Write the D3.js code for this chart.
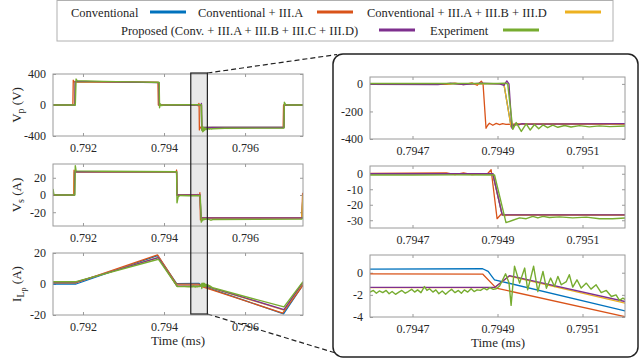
<!DOCTYPE html>
<html>
<head>
<meta charset="utf-8">
<script src="https://cdn.jsdelivr.net/npm/d3@7/dist/d3.min.js"></script>
<style>
  body { margin: 0; background: #fff; }
  svg, svg text { font-family: 'Liberation Serif', 'Times New Roman', Tinos, 'DejaVu Serif', serif; }
</style>
</head>
<body>
<svg id="fig" width="641" height="364"></svg>
<script>
// ---- series / legend ----
const seriesNames = [
  'Conventional',
  'Conventional + III.A',
  'Conventional + III.A + III.B + III.D',
  'Proposed (Conv. + III.A + III.B + III.C + III.D)',
  'Experiment'
];
const seriesColors = ['#0072BD', '#D95319', '#EDB120', '#7E2F8E', '#77AC30'];

// ---- time windows (ms) and ticks ----
const leftTimeDomain = [0.79126, 0.79743];
const zoomTimeDomain = [0.7946, 0.7952];
const highlightWindow = [0.79466, 0.79507];
const leftTimeTicks = [0.792, 0.794, 0.796];
const zoomTimeTicks = [0.7947, 0.7949, 0.7951];

const vpDomain = [-400, 400], vpTicks = [-400, 0, 400];
const vsDomain = [-36, 36], vsTicks = [-20, 0, 20];
const ilDomain = [-20, 20], ilTicks = [-20, 0, 20];
const vpZoomDomain = [-400, 50], vpZoomTicks = [-400, -200, 0];
const vsZoomDomain = [-35, 5], vsZoomTicks = [-30, -20, -10, 0];
const ilZoomDomain = [-4, 1.6], ilZoomTicks = [-4, -2, 0];

// ---- V_p (V): [time, value] ----
const vpConv = [[0.79126,0],[0.7918,0],[0.79181,300],[0.79387,292],[0.79388,0],[0.794915,0],
  [0.794932,-310],[0.79495,-290],[0.79696,-290],[0.79697,0],[0.79743,0]];
const vpConvA = [[0.79126,0],[0.79175,0],[0.79176,320],[0.79178,300],[0.79385,293],[0.79386,0],
  [0.79478,-4],[0.7948,5],[0.79482,-6],[0.79484,7],[0.794852,-10],[0.794862,20],[0.794866,0],
  [0.794873,-322],[0.794877,-300],[0.794881,-286],[0.794889,-300],[0.794897,-287],[0.794905,-296],
  [0.794912,-289],[0.79492,-294],[0.79494,-292],[0.79694,-292],[0.79695,0],[0.79743,0]];
const vpConvABD = [[0.79126,0],[0.7918,0],[0.79181,300],[0.79387,291],[0.79388,0],[0.794915,0],
  [0.794932,-312],[0.79495,-290],[0.79696,-289],[0.79697,0],[0.79743,0]];
const vpProp = [[0.79126,0],[0.7918,0],[0.79181,305],[0.79387,290],[0.79388,0],[0.79476,-5],
  [0.79479,5],[0.79482,-6],[0.79486,6],[0.794905,0],[0.794915,-10],[0.794922,22],[0.794927,0],
  [0.794934,-322],[0.794938,-300],[0.794944,-286],[0.79495,-297],[0.794958,-288],[0.79497,-292],
  [0.7952,-289],[0.79696,-288],[0.79697,0],[0.79743,0]];
const vpExp = [[0.79126,0],[0.79181,0],[0.79183,335],[0.79186,312],[0.7925,305],[0.7935,295],
  [0.79388,290],[0.79389,-35],[0.79391,15],[0.79394,-8],[0.794,0],[0.7947,3],[0.7949,4],
  [0.794918,5],[0.794924,0],[0.794936,-330],[0.794944,-281],[0.794956,-345],[0.7949675,-290],
  [0.794977,-335],[0.794987,-295],[0.794997,-325],[0.795007,-298],[0.795018,-318],[0.79503,-300],
  [0.795042,-315],[0.795058,-302],[0.795073,-313],[0.795093,-303],[0.795116,-312],[0.79514,-305],
  [0.795164,-310],[0.7952,-306],[0.7955,-300],[0.79696,-296],[0.79697,35],[0.797,5],[0.79706,0],[0.79743,0]];

// ---- V_s (A) ----
const vsConv = [[0.79126,0],[0.79178,0],[0.79179,27],[0.79431,27],[0.79432,0],[0.794889,0],
  [0.794911,-26.5],[0.7974,-26.5],[0.79743,0]];
const vsConvA = [[0.79126,0],[0.79177,0],[0.79178,29],[0.79179,27],[0.7943,27],[0.79431,29],[0.79432,0],
  [0.79478,0.5],[0.7948,-0.5],[0.79482,0.6],[0.79484,-0.6],[0.794877,0.2],[0.794885,2.6],
  [0.794899,-29],[0.794909,-26],[0.794918,-27],[0.79493,-26.5],[0.7974,-26.5],[0.79742,2],[0.79743,0]];
const vsConvABD = [[0.79126,0],[0.79178,0],[0.79179,27],[0.79431,27],[0.79432,0],[0.794889,0],
  [0.794911,-26.6],[0.7974,-26.6],[0.79743,0]];
const vsProp = [[0.79126,0],[0.79179,0],[0.7918,27],[0.79431,27],[0.79432,0],[0.794889,0],
  [0.794911,-26.5],[0.79743,-26.5]];
const vsExp = [[0.79126,7],[0.79128,1],[0.7913,0],[0.7918,0],[0.79181,34],[0.79183,28],[0.7925,27.5],
  [0.79431,27],[0.79432,-9],[0.79435,-2],[0.7944,-0.5],[0.7946,-0.8],[0.7947,-0.9],[0.7948,-0.7],
  [0.794893,-0.8],[0.79492,-31.5],[0.794936,-30],[0.794952,-28.5],[0.7949675,-29],[0.794983,-27.5],
  [0.794995,-28.5],[0.795007,-27.5],[0.795022,-28.2],[0.795046,-27.8],[0.795077,-28.5],[0.795109,-28],
  [0.79514,-29],[0.795171,-29],[0.7952,-28.5],[0.7974,-28],[0.79743,-26]];

// ---- I_Lp (A) ----
const ilConv = [[0.79126,0],[0.79183,0],[0.79384,18.3],[0.79431,0.3],[0.794865,0.36],[0.794878,0.12],
  [0.794888,-0.39],[0.794893,-0.64],[0.7952,-3.45],[0.79695,-19.3],[0.79743,-0.6]];
const ilConvA = [[0.79126,0.8],[0.79182,0.8],[0.79384,18.8],[0.79431,-0.1],[0.794865,-0.12],
  [0.794897,-1.39],[0.7952,-3.97],[0.79693,-18.8],[0.79743,-0.8]];
const ilConvABD = [[0.79126,1.2],[0.79183,1.2],[0.79386,17.2],[0.79432,-1.35],[0.794893,-1.35],
  [0.794928,-0.3],[0.7952,-2.75],[0.79696,-16.8],[0.79743,0.8]];
const ilProp = [[0.79126,1.2],[0.79183,1.2],[0.79386,17],[0.79432,-1.33],[0.794893,-1.33],
  [0.794928,-0.27],[0.7952,-2.6],[0.79696,-16.5],[0.79743,1]];
const ilExp = [[0.79126,1.5],[0.79183,1.5],[0.79386,16],[0.79433,-1.6],[0.7944,-1.7],[0.7945,-1.6],
  [0.7946,-1.75],[0.794608,-1.6],[0.794615,-1.85],[0.794622,-1.65],[0.79463,-1.8],[0.794638,-1.6],
  [0.794645,-1.9],[0.794652,-1.7],[0.79466,-1.95],[0.794668,-1.75],[0.794675,-1.6],[0.794683,-1.85],
  [0.79469,-1.7],[0.794698,-1.5],[0.794705,-1.75],[0.794712,-1.55],[0.79472,-1.8],[0.794728,-1.25],
  [0.794734,-1.6],[0.79474,-1.45],[0.794748,-1.75],[0.794755,-1.55],[0.794762,-1.9],[0.79477,-1.65],
  [0.794778,-1.95],[0.794785,-1.7],[0.794792,-1.5],[0.7948,-1.8],[0.794808,-1.6],[0.794815,-1.85],
  [0.794822,-1.55],[0.79483,-1.75],[0.794838,-1.45],[0.794845,-1.7],[0.794852,-1.55],[0.79486,-1.6],
  [0.794868,-1.4],[0.794875,-1.55],[0.794882,-1.35],[0.79489,-1.5],[0.794897,-1.45],[0.794905,-1.2],
  [0.794919,-0.1],[0.794927,-0.9],[0.794932,-2.95],[0.79494,0.58],[0.794952,-0.94],[0.794964,0.42],
  [0.794971,-1.55],[0.794985,0.58],[0.794995,-1.7],[0.795007,0.12],[0.795015,-1.4],[0.795025,-0.48],
  [0.795034,-1.24],[0.795042,-0.33],[0.79505,-1.09],[0.795062,-0.8],[0.795069,-0.18],[0.795077,-1.3],
  [0.795087,-0.64],[0.795097,-1.39],[0.795109,-0.94],[0.79512,-1.48],[0.795132,-1.09],[0.795144,-1.79],
  [0.795156,-1.6],[0.795168,-2.15],[0.795179,-2.0],[0.795187,-2.5],[0.795195,-2.3],[0.7952,-2.4],
  [0.79696,-14.8],[0.79743,1.5]];

const vpSeries = [vpConv, vpConvA, vpConvABD, vpProp, vpExp];
const vsSeries = [vsConv, vsConvA, vsConvABD, vsProp, vsExp];
const ilSeries = [ilConv, ilConvA, ilConvABD, ilProp, ilExp];

// ---- layout ----
const svg = d3.select('#fig');
const serif = "'Liberation Serif', 'Times New Roman', Tinos, 'DejaVu Serif', serif";
const leftX = [53, 303], rightX = [370, 625];
const leftRows = [[74, 136], [164, 226], [253, 315]];
const rightRows = [[77, 139], [166, 228], [255, 317]];
const textColor = '#262626', frameColor = '#9a9a9a';

const panels = [
  { series: vpSeries, xr: leftX, yr: leftRows[0], xd: leftTimeDomain, yd: vpDomain, xt: leftTimeTicks, yt: vpTicks, xf: '.3f',
    label: [['V', 0, 13], ['p', 3, 10], [' (V)', -3, 13]] },
  { series: vsSeries, xr: leftX, yr: leftRows[1], xd: leftTimeDomain, yd: vsDomain, xt: leftTimeTicks, yt: vsTicks, xf: '.3f',
    label: [['V', 0, 13], ['s', 3, 10], [' (A)', -3, 13]] },
  { series: ilSeries, xr: leftX, yr: leftRows[2], xd: leftTimeDomain, yd: ilDomain, xt: leftTimeTicks, yt: ilTicks, xf: '.3f',
    label: [['I', 0, 13], ['L', 3, 10], ['p', 2, 8], [' (A)', -5, 13]] },
  { series: vpSeries, xr: rightX, yr: rightRows[0], xd: zoomTimeDomain, yd: vpZoomDomain, xt: zoomTimeTicks, yt: vpZoomTicks, xf: '.4f' },
  { series: vsSeries, xr: rightX, yr: rightRows[1], xd: zoomTimeDomain, yd: vsZoomDomain, xt: zoomTimeTicks, yt: vsZoomTicks, xf: '.4f' },
  { series: ilSeries, xr: rightX, yr: rightRows[2], xd: zoomTimeDomain, yd: ilZoomDomain, xt: zoomTimeTicks, yt: ilZoomTicks, xf: '.4f' }
];

// highlighted window on the left (drawn behind the plots)
const xLeft = d3.scaleLinear().domain(leftTimeDomain).range(leftX);
const hx0 = xLeft(highlightWindow[0]), hx1 = xLeft(highlightWindow[1]);
svg.append('rect')
  .attr('x', hx0).attr('y', 73).attr('width', hx1 - hx0).attr('height', 241)
  .attr('fill', '#e9e9e9');

// zoom box with dashed connectors
svg.append('rect')
  .attr('x', 333).attr('y', 54).attr('width', 305).attr('height', 303).attr('rx', 10)
  .attr('fill', 'none').attr('stroke', '#222').attr('stroke-width', 1.5);
svg.append('line').attr('x1', hx1).attr('y1', 73).attr('x2', 337).attr('y2', 54.5);
svg.append('line').attr('x1', hx1).attr('y1', 314).attr('x2', 334).attr('y2', 352.5);
svg.selectAll('line').attr('stroke', '#222').attr('stroke-width', 1.2).attr('stroke-dasharray', '5,3');

function styleAxis(g) {
  g.select('.domain').remove();
  g.attr('font-family', serif).attr('font-size', 12);
  g.selectAll('.tick line').attr('stroke', frameColor);
  g.selectAll('.tick text').attr('fill', textColor);
}

const line = d3.line();

panels.forEach((p, i) => {
  const x = d3.scaleLinear().domain(p.xd).range(p.xr);
  const y = d3.scaleLinear().domain(p.yd).range([p.yr[1], p.yr[0]]);
  const w = p.xr[1] - p.xr[0], h = p.yr[1] - p.yr[0];
  const g = svg.append('g');

  g.append('clipPath').attr('id', 'clip' + i).append('rect')
    .attr('x', p.xr[0]).attr('y', p.yr[0]).attr('width', w).attr('height', h);

  // ticks on all four sides, pointing inward
  g.append('g').attr('transform', `translate(0,${p.yr[1]})`)
    .call(d3.axisBottom(x).tickValues(p.xt).tickFormat(d3.format(p.xf)).tickSize(-3).tickPadding(7))
    .call(styleAxis);
  g.append('g').attr('transform', `translate(0,${p.yr[0]})`)
    .call(d3.axisTop(x).tickValues(p.xt).tickFormat('').tickSize(-3))
    .call(styleAxis);
  g.append('g').attr('transform', `translate(${p.xr[0]},0)`)
    .call(d3.axisLeft(y).tickValues(p.yt).tickFormat(d => String(d)).tickSize(-3).tickPadding(7))
    .call(styleAxis);
  g.append('g').attr('transform', `translate(${p.xr[1]},0)`)
    .call(d3.axisRight(y).tickValues(p.yt).tickFormat('').tickSize(-3))
    .call(styleAxis);

  line.x(d => x(d[0])).y(d => y(d[1]));
  g.append('g').attr('clip-path', `url(#clip${i})`)
    .selectAll('path').data(p.series).enter().append('path')
    .attr('d', d => line(d))
    .attr('fill', 'none')
    .attr('stroke', (d, k) => seriesColors[k])
    .attr('stroke-width', (d, k) => k === 4 ? 1.4 : 1.3)
    .attr('stroke-linejoin', 'round');

  g.append('rect')
    .attr('x', p.xr[0]).attr('y', p.yr[0]).attr('width', w).attr('height', h)
    .attr('fill', 'none').attr('stroke', frameColor).attr('stroke-width', 1);

  if (p.label) {
    const t = g.append('text')
      .attr('transform', `translate(21,${(p.yr[0] + p.yr[1]) / 2}) rotate(-90)`)
      .attr('text-anchor', 'middle').attr('fill', textColor).attr('font-family', serif);
    p.label.forEach(([s, dy, fs]) => t.append('tspan').attr('dy', dy).attr('font-size', fs).text(s));
  }
});

// highlight border on top
svg.append('rect')
  .attr('x', hx0).attr('y', 73).attr('width', hx1 - hx0).attr('height', 241)
  .attr('fill', 'none').attr('stroke', '#222').attr('stroke-width', 1.2);

// x-axis titles
[[178, 345], [498, 347]].forEach(([cx, cy]) => {
  svg.append('text').attr('x', cx).attr('y', cy).attr('text-anchor', 'middle')
    .attr('font-family', serif).attr('font-size', 13).attr('fill', textColor).text('Time (ms)');
});

// ---- legend ----
const legend = svg.append('g');
legend.append('rect').attr('x', 57).attr('y', 0.5).attr('width', 556).attr('height', 40.5)
  .attr('fill', '#fff').attr('stroke', '#b0b0b0').attr('stroke-width', 1);
const legendPos = [
  { tx: 71, lx: 150, y: 12 },
  { tx: 198, lx: 317, y: 12 },
  { tx: 367, lx: 565, y: 12 },
  { tx: 121, lx: 379, y: 30 },
  { tx: 430, lx: 503, y: 30 }
];
seriesNames.forEach((name, k) => {
  const pos = legendPos[k];
  legend.append('text').attr('x', pos.tx).attr('y', pos.y + 4.5)
    .attr('font-family', serif).attr('font-size', 12.5).attr('fill', textColor).text(name);
  legend.append('line').attr('x1', pos.lx).attr('x2', pos.lx + 36)
    .attr('y1', pos.y).attr('y2', pos.y)
    .attr('stroke', seriesColors[k]).attr('stroke-width', 3);
});
</script>
</body>
</html>
